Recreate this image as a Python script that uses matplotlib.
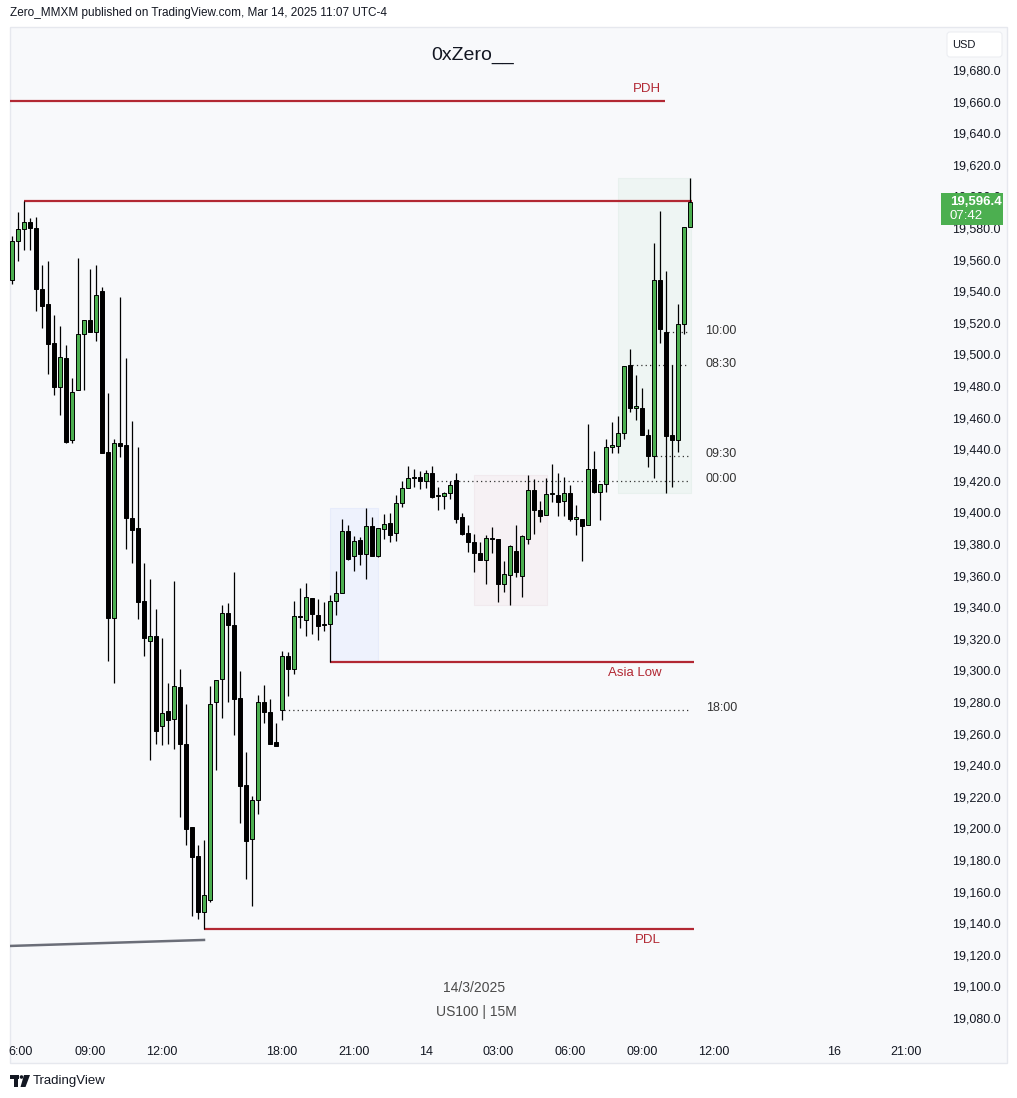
import matplotlib
matplotlib.use('Agg')
import matplotlib.pyplot as plt
from matplotlib.patches import Rectangle, FancyBboxPatch, Circle, Polygon
from matplotlib.ticker import FuncFormatter
import numpy as np

plt.rcParams['font.family'] = ['Liberation Sans Narrow', 'Liberation Sans', 'DejaVu Sans']

# US100 15m candles, 13 Mar 05:45 -> 14 Mar 11:00 (bar index = position on the time axis)
opens = [19546.9, 19572.0, 19579.2, 19583.6, 19579.8, 19541.2, 19531.7, 19507.0, 19479.6, 19497.5,
         19445.6, 19477.3, 19512.7, 19521.6, 19514.4, 19539.9, 19438.0, 19333.0, 19443.7, 19442.7,
         19396.5, 19390.1, 19343.9, 19318.4, 19321.8, 19264.6, 19274.3, 19269.1, 19289.5, 19253.4,
         19200.9, 19182.5, 19147.3, 19154.5, 19280.2, 19294.4, 19336.1, 19328.7, 19282.3, 19227.3,
         19193.1, 19218.0, 19279.8, 19273.5, 19254.7, 19275.0, 19308.9, 19301.1, 19334.2, 19332.1,
         19345.8, 19334.9, 19328.9, 19329.2, 19343.7, 19348.8, 19388.2, 19372.2, 19382.5, 19373.9,
         19391.2, 19372.6, 19389.7, 19393.1, 19386.8, 19405.8, 19415.3, 19421.9, 19422.2, 19420.0,
         19424.8, 19410.3, 19410.6, 19412.1, 19420.3, 19396.9, 19386.8, 19381.1, 19374.1, 19369.9,
         19383.6, 19383.0, 19354.7, 19360.2, 19375.4, 19359.6, 19383.0, 19414.0, 19401.3, 19398.2,
         19411.5, 19410.8, 19407.0, 19412.3, 19396.0, 19395.8, 19391.8, 19427.3, 19412.7, 19418.0,
         19441.7, 19441.8, 19450.1, 19493.1, 19466.3, 19466.1, 19448.8, 19435.9, 19546.9, 19514.0,
         19448.8, 19445.6, 19519.4, 19580.4]
highs = [19574.9, 19590.1, 19597.1, 19586.1, 19586.8, 19556.4, 19559.1, 19524.7, 19518.0, 19505.8,
         19484.9, 19560.8, 19521.6, 19553.9, 19556.4, 19542.5, 19475.4, 19446.3, 19536.3, 19497.7,
         19457.9, 19441.4, 19367.8, 19357.9, 19338.9, 19320.5, 19292.0, 19356.4, 19300.9, 19278.7,
         19200.9, 19189.3, 19192.7, 19290.1, 19293.7, 19341.4, 19342.7, 19362.1, 19299.4, 19248.2,
         19220.5, 19284.4, 19290.8, 19281.7, 19266.7, 19312.3, 19311.7, 19343.9, 19352.2, 19355.3,
         19345.8, 19345.2, 19343.5, 19347.7, 19362.9, 19395.8, 19392.0, 19385.1, 19384.2, 19402.8,
         19397.1, 19389.9, 19399.2, 19399.8, 19410.8, 19419.7, 19429.4, 19427.5, 19426.2, 19426.8,
         19429.4, 19415.9, 19413.1, 19419.7, 19424.8, 19399.4, 19391.8, 19386.1, 19381.1, 19385.9,
         19390.6, 19383.0, 19369.2, 19379.6, 19391.8, 19385.9, 19423.7, 19421.0, 19407.4, 19421.6,
         19430.4, 19425.1, 19422.4, 19417.3, 19404.5, 19395.8, 19456.0, 19438.9, 19417.8, 19446.3,
         19457.0, 19460.8, 19492.5, 19503.2, 19486.8, 19478.5, 19452.8, 19570.5, 19590.8, 19552.8,
         19493.1, 19531.7, 19580.4, 19611.6]
lows = [19544.6, 19559.3, 19566.3, 19566.3, 19527.7, 19516.9, 19487.8, 19474.5, 19461.8, 19444.1,
        19444.1, 19477.3, 19477.3, 19514.4, 19508.7, 19437.8, 19306.1, 19291.8, 19435.3, 19376.8,
        19368.2, 19332.7, 19309.3, 19243.5, 19253.6, 19252.8, 19253.6, 19250.5, 19207.4, 19189.7,
        19144.8, 19142.7, 19136.3, 19153.2, 19237.0, 19270.1, 19280.2, 19259.3, 19203.6, 19168.0,
        19151.1, 19209.3, 19266.9, 19253.2, 19252.4, 19268.8, 19284.0, 19297.9, 19326.8, 19322.0,
        19323.2, 19319.4, 19325.1, 19305.3, 19334.8, 19348.8, 19369.7, 19363.1, 19366.9, 19358.0,
        19372.6, 19372.0, 19383.4, 19381.5, 19382.1, 19403.6, 19415.3, 19415.9, 19415.0, 19415.3,
        19409.3, 19401.7, 19402.3, 19408.3, 19393.5, 19385.5, 19375.1, 19362.5, 19369.7, 19354.5,
        19374.1, 19343.5, 19349.8, 19341.2, 19359.3, 19346.3, 19380.2, 19386.5, 19393.7, 19398.2,
        19406.6, 19397.5, 19397.9, 19394.4, 19385.9, 19369.4, 19391.8, 19412.5, 19395.2, 19413.1,
        19437.8, 19437.8, 19446.6, 19463.4, 19458.7, 19449.2, 19428.9, 19422.0, 19507.2, 19412.1,
        19416.3, 19438.4, 19513.1, 19580.4]
closes = [19572.0, 19579.2, 19583.6, 19579.8, 19541.2, 19530.8, 19506.8, 19479.6, 19498.2, 19444.7,
          19476.0, 19512.7, 19521.6, 19514.4, 19537.4, 19437.8, 19333.4, 19443.7, 19442.3, 19396.6,
          19389.1, 19343.5, 19320.7, 19321.6, 19261.8, 19272.9, 19268.4, 19289.9, 19253.6, 19199.8,
          19182.1, 19147.3, 19157.7, 19278.6, 19293.7, 19336.1, 19328.9, 19282.1, 19227.0, 19192.2,
          19217.8, 19279.8, 19273.5, 19253.6, 19252.4, 19308.9, 19301.1, 19334.2, 19333.6, 19346.3,
          19335.9, 19328.3, 19329.2, 19343.7, 19348.8, 19388.2, 19370.7, 19381.9, 19373.9, 19391.2,
          19372.6, 19389.9, 19392.5, 19385.9, 19405.8, 19415.3, 19421.6, 19422.2, 19420.1, 19424.8,
          19409.9, 19410.8, 19412.5, 19417.2, 19396.1, 19386.5, 19381.1, 19374.1, 19369.7, 19383.6,
          19383.0, 19354.9, 19360.8, 19378.5, 19362.1, 19384.9, 19414.0, 19401.3, 19397.9, 19411.5,
          19411.6, 19406.8, 19412.1, 19396.0, 19396.9, 19391.2, 19427.3, 19413.1, 19417.8, 19441.7,
          19441.8, 19450.1, 19492.5, 19466.3, 19467.2, 19449.2, 19435.9, 19546.9, 19516.3, 19448.5,
          19445.6, 19519.0, 19580.4, 19596.4]

tick_pos = [1.5, 13, 25, 45, 57, 69, 81, 93, 105, 117, 137, 149]
tick_labels = ['6:00', '09:00', '12:00', '18:00', '21:00', '14', '03:00',
               '06:00', '09:00', '12:00', '16', '21:00']

# key levels
pdh = 19660.4
prev_high = 19597.1
asia_low = 19305.3
pdl = 19136.3
trend_y = [19125.6, 19129.4]

# session opens (bar index) marked with dotted lines
sess_idx = [45, 69, 103, 107, 109]
sess_label = ['18:00', '00:00', '08:30', '09:30', '10:00']

W, H = 1017, 1098
fig = plt.figure(figsize=(W / 100, H / 100), dpi=100)
fig.patch.set_facecolor('white')

def fx(x):
    return x / W

def fy(y):
    return 1 - y / H

# panel background
bg = fig.add_axes([0, 0, 1, 1], zorder=0)
bg.set_xlim(0, W)
bg.set_ylim(H, 0)
bg.axis('off')
bg.add_patch(Rectangle((10, 27), 997, 1036, facecolor='#f8f9fb', edgecolor='#e6e8ee', linewidth=1))

ax = fig.add_axes([fx(10), fy(1035), 930 / W, 1008 / H], zorder=1)
ax.set_facecolor('none')
ax.set_xlim(-0.333, 154.667)
ax.set_ylim(19069.24, 19707.22)
for s in ax.spines.values():
    s.set_visible(False)

# zones
ax.add_patch(Rectangle((53, asia_low), 8, 97.5, facecolor='#eef2fd', edgecolor='#e7ecfb', lw=0.8, zorder=1))
ax.add_patch(Rectangle((77, 19341.4), 12.2, 82.3, facecolor='#f6f1f4', edgecolor='#f1eaee', lw=0.8, zorder=1))
ax.add_patch(Rectangle((101, 19412.1), 12.1, 199.5, facecolor='#eef5f3', edgecolor='#e8f1ee', lw=0.8, zorder=1))

# candles
x = np.arange(len(opens))
o = np.array(opens)
c = np.array(closes)
up = c >= o
body_lo = np.minimum(o, c)
body_h = np.maximum(np.abs(c - o), 0.7)
ax.vlines(x, lows, highs, color='black', linewidth=0.9, zorder=3)
ax.bar(x, body_h, bottom=body_lo, width=0.68,
       color=np.where(up, '#4caf50', '#000000'), edgecolor='black', linewidth=0.7, zorder=4)

# levels
red = '#b22833'
ax.hlines(pdh, -0.333, 108.83, color=red, linewidth=1.6, zorder=2)
ax.hlines(prev_high, 2, 113.33, color=red, linewidth=1.6, zorder=2)
ax.hlines(asia_low, 53, 113.67, color=red, linewidth=1.6, zorder=2)
ax.hlines(pdl, 32, 113.67, color=red, linewidth=1.6, zorder=2)
ax.plot([-0.333, 32], trend_y, color='#6b6e78', linewidth=1.8, zorder=2)

ax.text(108.2, pdh + 7.5, 'PDH', color=red, fontsize=9.5, ha='right', va='center')
ax.text(108.2, asia_low - 7, 'Asia Low', color=red, fontsize=9.5, ha='right', va='center')
ax.text(108.2, pdl - 7, 'PDL', color=red, fontsize=9.5, ha='right', va='center')

for i, lab in zip(sess_idx, sess_label):
    p = opens[i]
    ax.hlines(p, i + 0.4, 112.67, color='#333333', linewidth=0.9, linestyles=(0, (1, 2.5)), zorder=2)
    ax.text(118.2, p + 1, lab, fontsize=9, color='#333333', ha='center', va='center')

# axes ticks
ax.yaxis.tick_right()
ax.set_yticks(np.arange(19080, 19681, 20))
ax.yaxis.set_major_formatter(FuncFormatter(lambda v, _: f'{v:,.1f}'))
ax.set_xticks(tick_pos)
ax.set_xticklabels(tick_labels)
ax.tick_params(axis='y', length=0, pad=9, labelsize=9, labelcolor='#131722')
ax.tick_params(axis='x', length=0, pad=8, labelsize=9, labelcolor='#131722')

# overlay texts
ov = fig.add_axes([0, 0, 1, 1], zorder=3)
ov.set_xlim(0, W)
ov.set_ylim(H, 0)
ov.axis('off')
ov.set_facecolor('none')

ov.text(10, 13, 'Zero_MMXM published on TradingView.com, Mar 14, 2025 11:07 UTC-4',
        fontsize=8.5, color='#131722', ha='left', va='center')
ov.text(473, 55, '0xZero__', fontsize=14, color='#131722', ha='center', va='center')
ov.text(474, 988, '14/3/2025', fontsize=10, color='#4a4a4a', ha='center', va='center')
ov.text(476, 1012, 'US100 | 15M', fontsize=10, color='#4a4a4a', ha='center', va='center')

ov.add_patch(FancyBboxPatch((947, 32), 55, 25, boxstyle='round,pad=0,rounding_size=3',
                            facecolor='white', edgecolor='#eceef2', linewidth=0.8))
ov.text(964, 45, 'USD', fontsize=8, color='#131722', ha='center', va='center')

ov.add_patch(Rectangle((941, 193), 62, 32, facecolor='#4caf50', edgecolor='none'))
ov.text(950, 202, f'{closes[-1]:,.1f}', fontsize=9.5, color='white', fontweight='bold', ha='left', va='center')
ov.text(950, 216, '07:42', fontsize=9.5, color='white', ha='left', va='center')

# TradingView logo
ov.add_patch(Rectangle((10, 1075), 9, 3.5, facecolor='#131722', edgecolor='none'))
ov.add_patch(Rectangle((14, 1075), 4, 12, facecolor='#131722', edgecolor='none'))
ov.add_patch(Circle((21.5, 1077), 1.8, facecolor='#131722', edgecolor='none'))
ov.add_patch(Polygon([(24, 1075), (30, 1075), (25.5, 1087), (20.5, 1087)], closed=True,
                     facecolor='#131722', edgecolor='none'))
ov.text(33, 1081, 'TradingView', fontsize=9.5, color='#131722', ha='left', va='center')

fig.savefig('out.png', dpi=100, facecolor='white')
